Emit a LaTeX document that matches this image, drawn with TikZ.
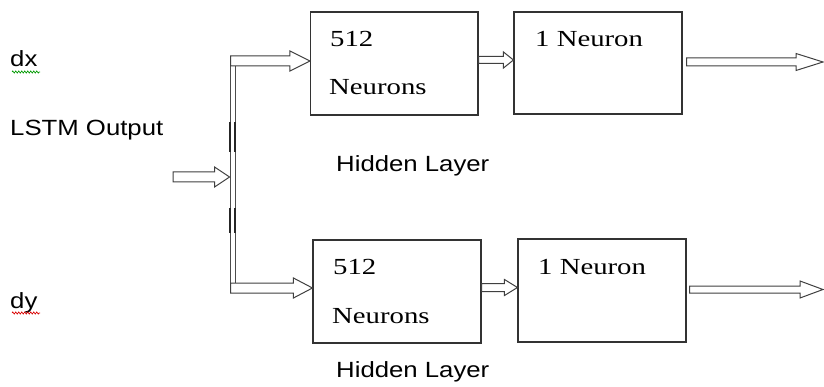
\documentclass[tikz,border=0pt]{standalone}
\usepackage{fontspec}
\setmainfont{Liberation Serif}
\newfontfamily\labelfont[FakeStretch=1.17]{Liberation Sans}
\newfontfamily\boxfont[FakeStretch=1.25]{Liberation Serif}
\usetikzlibrary{calc,decorations.pathmorphing}

% Hollow block arrow drawn horizontally from #1 to #2
% #3 = shaft half-width, #4 = head length, #5 = head half-width
\newcommand{\hollowarrow}[5]{%
  \draw[arrowline] let \p1=(#1), \p2=(#2) in
    (\x1,\y1+#3) -- (\x2-#4,\y1+#3) -- (\x2-#4,\y1+#5) -- (\x2,\y1)
    -- (\x2-#4,\y1-#5) -- (\x2-#4,\y1-#3) -- (\x1,\y1-#3) -- cycle;}

\begin{document}
\begin{tikzpicture}[x=1pt,y=-1pt,
  box/.style={draw=black!80, line width=1.1pt, fill=white, inner sep=0pt},
  busbar/.style={draw=black!70, line width=0.9pt, fill=white, inner sep=0pt},
  arrowline/.style={draw=black!75, line width=1pt, fill=white, line join=miter},
  boxtext/.style={font=\boxfont\fontsize{23}{23}\selectfont, anchor=base west, inner sep=0pt},
  sanstext/.style={font=\labelfont\fontsize{22}{22}\selectfont, anchor=base west, inner sep=0pt},
  squiggle/.style={line width=0.6pt, decorate, decoration={zigzag, segment length=3pt, amplitude=1.1pt}},
]
\useasboundingbox (0,0) rectangle (824,387);

% labels on the left
\node[sanstext] (dx) at (10,67) {dx};
\node[sanstext] (lstm) at (10,136) {LSTM Output};
\node[sanstext] (dy) at (10,308) {dy};
\draw[squiggle, green!60!black] (12,72) -- (40,72);
\draw[squiggle, red!85!black] (12,313) -- (40,313);

% splitting bar
\node[busbar, minimum width=5pt, minimum height=229pt] (bus) at (232.5,176.5) {};
\draw[line width=2.2pt, black!85] (230.3,122) -- (230.3,152) (234.7,122) -- (234.7,152);
\draw[line width=2.2pt, black!85] (230.3,208) -- (230.3,233) (234.7,208) -- (234.7,233);

% layer boxes
\node[box, minimum width=167.5pt, minimum height=103pt] (h1) at (394.25,63.5) {};
\node[box, minimum width=168pt, minimum height=102pt] (o1) at (598,63) {};
\node[box, minimum width=168pt, minimum height=103pt] (h2) at (397,291.5) {};
\node[box, minimum width=168pt, minimum height=103pt] (o2) at (602,290.5) {};

% box texts
\node[boxtext] (h1a) at (330,47) {512};
\node[boxtext] (h1b) at (329,95) {Neurons};
\node[boxtext] (o1a) at (535,47) {1 Neuron};
\node[boxtext] (h2a) at (333,275) {512};
\node[boxtext] (h2b) at (332,323) {Neurons};
\node[boxtext] (o2a) at (538,275) {1 Neuron};

\node[sanstext] (hl1) at (336,172) {Hidden Layer};
\node[sanstext] (hl2) at (336,377) {Hidden Layer};

% connection points
\coordinate (in) at (173,177);
\coordinate (busin) at (bus.west |- in);
\coordinate (topstart) at (230.5,61);
\coordinate (botstart) at (230.5,288);
\coordinate (h1out) at ($(h1.east)+(0,-3.5)$);
\coordinate (h2out) at ($(h2.east)+(0,-4)$);
\coordinate (o1out) at ($(o1.east)+(4,-1)$);
\coordinate (o2out) at ($(o2.east)+(3,-1)$);
\coordinate (end1) at (823,62);
\coordinate (end2) at (823,289.5);

% arrows
\hollowarrow{in}{busin}{5pt}{15pt}{10pt}
\hollowarrow{topstart}{h1.west}{5pt}{20pt}{10pt}
\hollowarrow{botstart}{h2.west}{5pt}{19pt}{10pt}
\hollowarrow{h1out}{o1.west}{3.5pt}{10pt}{8pt}
\hollowarrow{h2out}{o2.west}{4pt}{13pt}{8pt}
\hollowarrow{o1out}{end1}{4pt}{27pt}{8.5pt}
\hollowarrow{o2out}{end2}{3.5pt}{23pt}{8.5pt}
\end{tikzpicture}
\end{document}
